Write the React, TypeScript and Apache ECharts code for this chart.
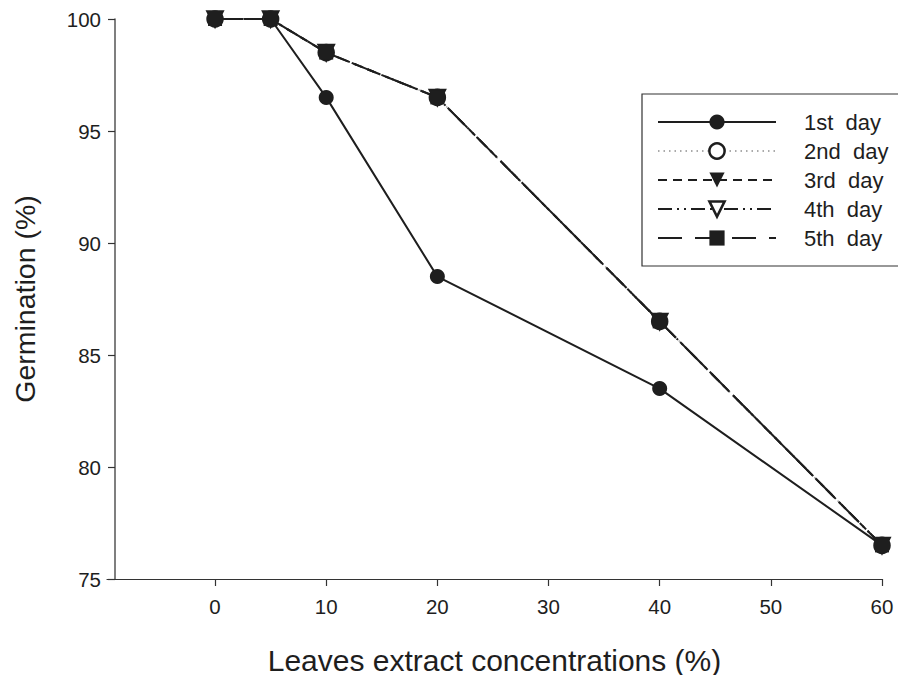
import React, { useEffect, useRef } from "react";
import * as echarts from "echarts";

const concentrations = [0, 5, 10, 20, 40, 60];
const day1 = [100, 100, 96.5, 88.5, 83.5, 76.5];
const day2 = [100, 100, 98.5, 96.5, 86.5, 76.5];
const day3 = [100, 100, 98.5, 96.5, 86.5, 76.5];
const day4 = [100, 100, 98.5, 96.5, 86.5, 76.5];
const day5 = [100, 100, 98.5, 96.5, 86.5, 76.5];
const seriesNames = ["1st  day", "2nd  day", "3rd  day", "4th  day", "5th  day"];
const xTicks = [0, 10, 20, 30, 40, 50, 60];

const FONT = "Liberation Sans, Arial, sans-serif";
const INK = "#1e1e1e";

export default function App() {
  const ref = useRef<HTMLDivElement>(null);
  useEffect(() => {
    if (!ref.current) return;
    const chart = echarts.init(ref.current, null, { renderer: "svg" });
    const pair = (ys: number[]) => concentrations.map((x, i) => [x, ys[i]]);
    const filled = { color: INK, borderColor: INK, borderWidth: 0 };
    const hollow = { color: "#ffffff", borderColor: INK, borderWidth: 2.5 };
    const base = { type: "line", symbolSize: 15, z: 3 };
    chart.setOption({
      animation: false,
      backgroundColor: "#ffffff",
      grid: { left: 107, right: 16, top: 19, bottom: 96, containLabel: false, outerBoundsMode: "none" },
      xAxis: {
        type: "value",
        min: -9.72,
        max: 60,
        interval: 10,
        splitLine: { show: false },
        axisLine: { onZero: false, lineStyle: { color: "#333", width: 1.2 } },
        axisTick: { show: true, length: 7, lineStyle: { color: "#333", width: 1.2 },
          customValues: xTicks },
        axisLabel: { color: INK, fontSize: 20.5, fontFamily: FONT, margin: 17,
          customValues: xTicks },
        name: "Leaves extract concentrations (%)",
        nameLocation: "middle",
        nameGap: 66,
        nameTextStyle: { color: INK, fontSize: 30, fontFamily: FONT },
      },
      yAxis: {
        type: "value",
        min: 75,
        max: 100,
        interval: 5,
        offset: -8,
        splitLine: { show: false },
        axisLine: { show: true, onZero: false, lineStyle: { color: "#555", width: 1.5 } },
        axisTick: { show: true, length: 7, lineStyle: { color: "#333", width: 1.2 } },
        axisLabel: { color: INK, fontSize: 20.5, fontFamily: FONT, margin: 14 },
        name: "Germination (%)",
        nameLocation: "middle",
        nameGap: 76,
        nameTextStyle: { color: INK, fontSize: 28.5, fontFamily: FONT },
      },
      legend: {
        left: 642,
        top: 94,
        orient: "vertical",
        itemWidth: 118,
        itemHeight: 19,
        itemGap: 7,
        padding: [17, 22, 17, 15],
        borderColor: "#333",
        borderWidth: 1.2,
        backgroundColor: "#fff",
        textStyle: { color: INK, fontSize: 22, fontFamily: FONT, padding: [0, 0, 0, 23] },
        data: [
          { name: seriesNames[0], itemStyle: filled },
          { name: seriesNames[1], itemStyle: hollow },
          { name: seriesNames[2], itemStyle: filled },
          { name: seriesNames[3], itemStyle: hollow },
          { name: seriesNames[4], itemStyle: filled },
        ],
      },
      series: [
        {
          ...base, name: seriesNames[0], data: pair(day1), symbol: "circle",
          itemStyle: filled,
          lineStyle: { color: INK, width: 2, type: "solid" },
        },
        {
          ...base, name: seriesNames[1], data: pair(day2), symbol: "circle",
          itemStyle: hollow,
          lineStyle: { color: "#aaa", width: 1.5, type: [1.5, 4] },
        },
        {
          ...base, name: seriesNames[2], data: pair(day3), symbol: "triangle", symbolRotate: 180,
          itemStyle: filled,
          lineStyle: { color: INK, width: 2, type: [9, 6] },
        },
        {
          ...base, name: seriesNames[3], data: pair(day4), symbol: "triangle", symbolRotate: 180,
          itemStyle: hollow,
          lineStyle: { color: INK, width: 2, type: [14, 5, 2, 5, 2, 5] },
        },
        {
          ...base, name: seriesNames[4], data: pair(day5), symbol: "rect", symbolSize: 14,
          itemStyle: filled,
          lineStyle: { color: INK, width: 2, type: [24, 13] },
        },
      ],
    });
    return () => chart.dispose();
  }, []);
  return <div ref={ref} style={{ width: 898, height: 675, position: "absolute", left: 0, top: 0 }} />;
}
